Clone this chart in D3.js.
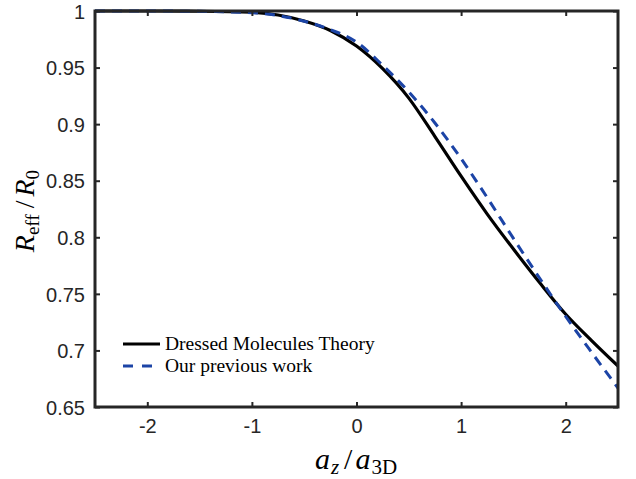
<!DOCTYPE html>
<html>
<head>
<meta charset="utf-8">
<script src="https://cdn.jsdelivr.net/npm/d3@7"></script>
<style>
  html, body { margin: 0; padding: 0; background: #fff; }
  svg { display: block; }
</style>
</head>
<body>
<svg id="chart" width="636" height="479"></svg>
<script>
// ---- data ----
const xValues = [-2.5, -2, -1.5, -1, -0.75, -0.5, -0.25, 0, 0.25, 0.5, 0.75, 1, 1.25, 1.5, 1.75, 2, 2.25, 2.5];
const dressedTheory = [1.0, 1.0, 0.9998, 0.9989, 0.9965, 0.9912, 0.9828, 0.9690, 0.9490, 0.9230, 0.8890, 0.8540, 0.8205, 0.7896, 0.7600, 0.7320, 0.7085, 0.6862];
const previousWork  = [1.0, 1.0, 0.9997, 0.9985, 0.9960, 0.9910, 0.9835, 0.9726, 0.9520, 0.9285, 0.9010, 0.8695, 0.8350, 0.7990, 0.7640, 0.7300, 0.6980, 0.6668];
const xTicks = [-2, -1, 0, 1, 2];
const yTicks = [0.65, 0.7, 0.75, 0.8, 0.85, 0.9, 0.95, 1];
const legendLabels = ["Dressed Molecules Theory", "Our previous work"];

// ---- layout ----
const svg = d3.select("#chart");
const L = 95, R = 618, T = 11, B = 407;
const x = d3.scaleLinear().domain([-2.5, 2.5]).range([L, R]);
const y = d3.scaleLinear().domain([0.65, 1]).range([B, T]);
const axisColor = "#262626";
const tickFont = "'Liberation Sans', Arial, Helvetica, sans-serif";
const serif = "'Liberation Serif', 'Times New Roman', serif";

// curves
const line = d3.line().x(d => x(d[0])).y(d => y(d[1])).curve(d3.curveMonotoneX);
const plot = svg.append("g");
plot.append("defs").append("clipPath").attr("id", "clip")
  .append("rect").attr("x", L).attr("y", T - 2).attr("width", R - L).attr("height", B - T + 4);
const g = plot.append("g").attr("clip-path", "url(#clip)");
g.append("path").datum(xValues.map((v, i) => [v, dressedTheory[i]]))
  .attr("d", line).attr("fill", "none").attr("stroke", "#000").attr("stroke-width", 3.2);
g.append("path").datum(xValues.map((v, i) => [v, previousWork[i]]))
  .attr("d", line).attr("fill", "none").attr("stroke", "#1c44a6").attr("stroke-width", 3)
  .attr("stroke-dasharray", "10,7");

// axes (ticks inward, on all four sides)
const tickLen = 5;
const xb = svg.append("g").attr("transform", `translate(0,${B})`)
  .call(d3.axisBottom(x).tickValues(xTicks).tickSizeInner(-tickLen).tickSizeOuter(0).tickPadding(10).tickFormat(d => String(d)));
const xt = svg.append("g").attr("transform", `translate(0,${T})`)
  .call(d3.axisTop(x).tickValues(xTicks).tickSizeInner(-tickLen).tickSizeOuter(0).tickFormat(""));
const yl = svg.append("g").attr("transform", `translate(${L},0)`)
  .call(d3.axisLeft(y).tickValues(yTicks).tickSizeInner(-tickLen).tickSizeOuter(0).tickPadding(10).tickFormat(d => String(+d.toFixed(2))));
const yr = svg.append("g").attr("transform", `translate(${R},0)`)
  .call(d3.axisRight(y).tickValues(yTicks).tickSizeInner(-tickLen).tickSizeOuter(0).tickFormat(""));
[xb, xt, yl, yr].forEach(a => {
  a.select(".domain").remove();
  a.selectAll(".tick line").attr("stroke", axisColor).attr("stroke-width", 2);
  a.selectAll(".tick text").attr("fill", axisColor).style("font-family", tickFont).style("font-size", "20px");
});
xb.selectAll(".tick text").attr("dy", "0.8em");
yl.selectAll(".tick text").attr("dy", "0.36em");

// frame
svg.append("rect").attr("x", L).attr("y", T).attr("width", R - L).attr("height", B - T)
  .attr("fill", "none").attr("stroke", axisColor).attr("stroke-width", 3);

// axis labels
const xl = svg.append("text").attr("x", 356).attr("y", 469).attr("text-anchor", "middle")
  .style("font-family", serif).style("font-size", "30px").attr("fill", "#000");
xl.append("tspan").attr("font-style", "italic").text("a");
xl.append("tspan").attr("font-style", "italic").attr("font-size", "21px").attr("dy", 5).attr("dx", 1).text("z");
xl.append("tspan").attr("dy", -5).attr("dx", 5).text("/");
xl.append("tspan").attr("font-style", "italic").attr("dx", 3).text("a");
xl.append("tspan").attr("font-size", "21px").attr("dy", 5).attr("dx", 1).text("3D");

const ylab = svg.append("text").attr("transform", `translate(34,211) rotate(-90)`)
  .attr("text-anchor", "middle").style("font-family", serif).style("font-size", "28px").attr("fill", "#000");
ylab.append("tspan").attr("font-style", "italic").text("R");
ylab.append("tspan").attr("font-size", "19px").attr("dy", 5).text("eff");
ylab.append("tspan").attr("dy", -5).attr("dx", 6).text("/");
ylab.append("tspan").attr("font-style", "italic").attr("dx", 4).text("R");
ylab.append("tspan").attr("font-size", "19px").attr("dy", 5).text("0");

// legend
const leg = svg.append("g");
const legY = [344, 366];
leg.append("line").attr("x1", 123).attr("x2", 160).attr("y1", legY[0]).attr("y2", legY[0])
  .attr("stroke", "#000").attr("stroke-width", 3.2);
leg.append("line").attr("x1", 123).attr("x2", 158).attr("y1", legY[1]).attr("y2", legY[1])
  .attr("stroke", "#1c44a6").attr("stroke-width", 3).attr("stroke-dasharray", "10,9");
legendLabels.forEach((t, i) => {
  leg.append("text").attr("x", 165).attr("y", legY[i] + 5.5).text(t)
    .style("font-family", serif).style("font-size", "19.5px").attr("fill", "#000");
});
</script>
</body>
</html>
